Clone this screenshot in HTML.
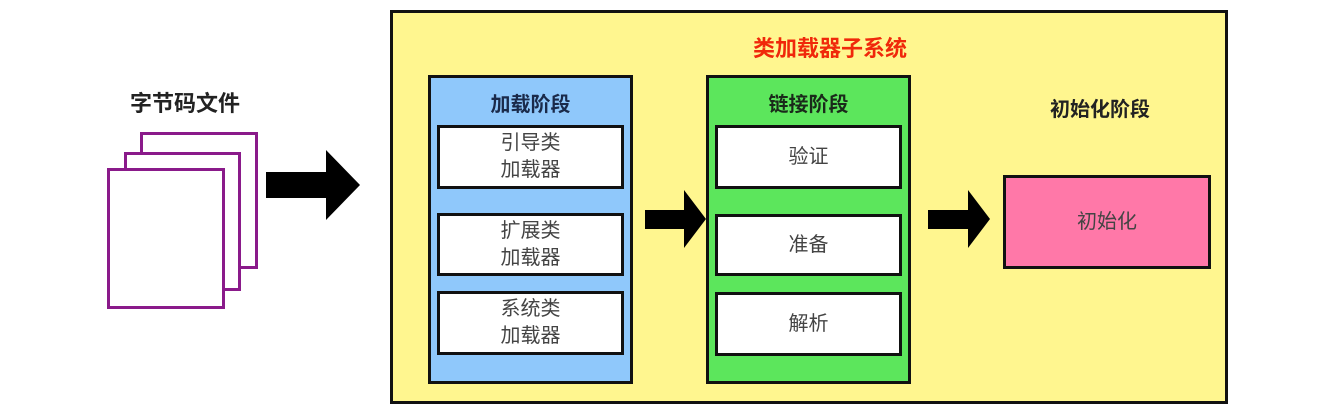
<!DOCTYPE html>
<html><head><meta charset="utf-8"><style>
body{margin:0;width:1320px;height:414px;background:#fff;position:relative;overflow:hidden;font-family:"Liberation Sans","Noto Sans CJK SC",sans-serif}
div{position:absolute;box-sizing:border-box}
.t{text-align:center;white-space:nowrap}
.w{background:#fff;border:3px solid #111;display:flex;align-items:center;justify-content:center;text-align:center;font-size:20px;color:#444;line-height:27px}
.pg{background:#fff;border:3px solid #8a1a8a}
</style></head><body>
<div class="t" style="left:100px;top:86px;width:170px;font-size:22px;font-weight:bold;color:#222">字节码文件</div>
<div class="pg" style="left:140px;top:132px;width:118px;height:137px"></div>
<div class="pg" style="left:124px;top:152px;width:117px;height:139px"></div>
<div class="pg" style="left:107px;top:168px;width:118px;height:141px"></div>
<svg style="position:absolute;left:0;top:0" width="1320" height="414">
<polygon points="266,172 326,172 326,150 360,185 326,220 326,198 266,198" fill="#000"/>
</svg>
<div style="left:390px;top:10px;width:838px;height:394px;background:#fff68f;border:3px solid #111"></div>
<div class="t" style="left:700px;top:31px;width:260px;font-size:22px;font-weight:bold;color:#f0280a">类加载器子系统</div>
<div style="left:428px;top:75px;width:205px;height:309px;background:#8fc8fb;border:3px solid #111"></div>
<div class="t" style="left:428px;top:88px;width:205px;font-size:20px;font-weight:bold;color:#1a2a4a">加载阶段</div>
<div class="w" style="left:437px;top:125px;width:187px;height:64px">引导类<br>加载器</div>
<div class="w" style="left:437px;top:213px;width:187px;height:63px">扩展类<br>加载器</div>
<div class="w" style="left:437px;top:291px;width:187px;height:64px">系统类<br>加载器</div>
<div style="left:706px;top:75px;width:205px;height:309px;background:#5ce65c;border:3px solid #111"></div>
<div class="t" style="left:706px;top:88px;width:205px;font-size:20px;font-weight:bold;color:#1a2a1a">链接阶段</div>
<div class="w" style="left:715px;top:125px;width:187px;height:64px">验证</div>
<div class="w" style="left:715px;top:214px;width:187px;height:62px">准备</div>
<div class="w" style="left:715px;top:292px;width:187px;height:64px">解析</div>
<div class="t" style="left:1000px;top:93px;width:200px;font-size:20px;font-weight:bold;color:#222">初始化阶段</div>
<div class="w" style="left:1003px;top:175px;width:208px;height:94px;background:#ff78a8;color:#444">初始化</div>
<svg style="position:absolute;left:0;top:0" width="1320" height="414">
<polygon points="645,210 684,210 684,190 706,219 684,248 684,229 645,229" fill="#000"/>
<polygon points="928,210 968,210 968,190 990,219 968,248 968,229 928,229" fill="#000"/>
</svg>
</body></html>
